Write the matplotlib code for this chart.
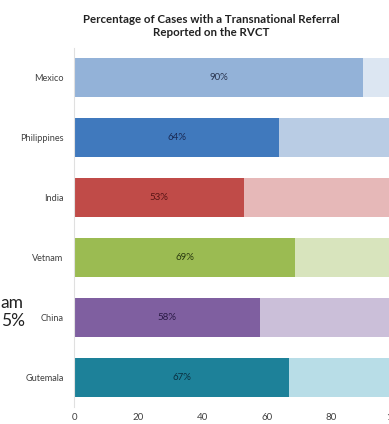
import matplotlib
matplotlib.use("Agg")
import matplotlib.pyplot as plt

countries = ["Mexico", "Philippines", "India", "Vetnam", "China", "Gutemala"]
values = [90, 64, 53, 69, 58, 67]
totals = [100, 100, 100, 100, 100, 100]
labels = ["90%", "64%", "53%", "69%", "58%", "67%"]
xticks = [0, 20, 40, 60, 80, 100]

main_colors = ["#93b2d8", "#4079bd", "#c04b48", "#9bbb52", "#7f5fa0", "#1d8199"]
rest_colors = ["#dce6f2", "#b9cce4", "#e6b8b8", "#d8e4bd", "#cbbfd9", "#b8dde7"]
text_colors = ["#2a3550", "#1a2a55", "#5a1515", "#2a3a10", "#2a1a45", "#0a3040"]

plt.rcParams['font.family'] = ['Lato', 'DejaVu Sans']

fig = plt.figure(figsize=(3.89, 4.24), dpi=100)
ax = fig.add_axes([74/389, 1-407/424, 321/389, (407-48)/424])

ypos = list(range(len(countries)))
ax.barh(ypos, totals, height=0.65, color=rest_colors)
ax.barh(ypos, values, height=0.65, color=main_colors)
for y, v, lab, tc in zip(ypos, values, labels, text_colors):
    ax.text(v/2, y, lab, ha='center', va='center', fontsize=7, color=tc)

ax.set_ylim(len(countries)-0.5, -0.5)
ax.set_xlim(0, 100)
ax.set_yticks(ypos)
ax.set_yticklabels(countries, fontsize=6.6, color="#404040")
ax.set_xticks(xticks)
ax.set_xticklabels([str(t) for t in xticks], fontsize=7, color="#404040")
ax.tick_params(axis='both', length=0)
ax.tick_params(axis='y', pad=7.5)
ax.tick_params(axis='x', pad=4.5)
for s in ['top', 'right', 'bottom']:
    ax.spines[s].set_visible(False)
ax.spines['left'].set_color("#e0e0e0")
ax.spines['left'].set_linewidth(0.8)

fig.text(211/389, 1-26/424, "Percentage of Cases with a Transnational Referral\nReported on the RVCT",
         ha='center', va='center', fontsize=8.3, fontweight='bold', color="#222222",
         linespacing=1.3)

fig.text(23/389, 1-303/424, "am", ha='right', va='center', fontsize=12.5, color="#222222")
fig.text(25/389, 1-321/424, "5%", ha='right', va='center', fontsize=12.5, color="#222222")

fig.savefig("out.png", dpi=100)
